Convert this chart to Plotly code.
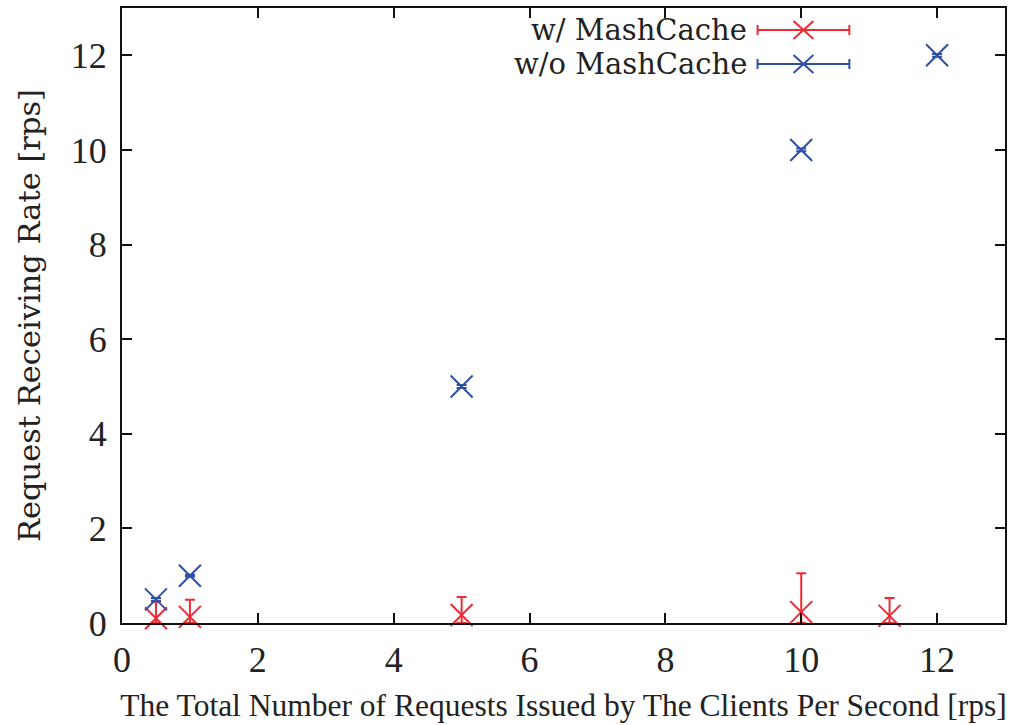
import plotly.graph_objects as go

# Data
x_with = [0.5, 1, 5, 10, 11.3]
y_with = [0.1, 0.13, 0.17, 0.23, 0.15]
err_with = [0.35, 0.36, 0.38, 0.82, 0.38]

x_without = [0.5, 1, 5, 10, 12]
y_without = [0.5, 1, 5, 10, 12]
err_without = [0.03, 0.02, 0.03, 0.03, 0.03]

x_ticks = [0, 2, 4, 6, 8, 10, 12]
y_ticks = [0, 2, 4, 6, 8, 10, 12]

RED = "#ee2a35"
BLUE = "#2e4fa6"
FONT = "DejaVu Serif"
FONT2 = "Liberation Serif"

W, H = 1009, 725
ML, MR, MT, MB = 122, 2, 8, 102
PW, PH = W - ML - MR, H - MT - MB

fig = go.Figure()


def add_series(xs, ys, errs, color, name):
    fig.add_trace(go.Scatter(
        x=xs, y=ys, mode="markers", name=name, showlegend=False,
        marker=dict(symbol="x-thin-open", size=22, color=color,
                    line=dict(width=2, color=color)),
        error_y=dict(type="data", array=errs, arrayminus=[min(e, y) for e, y in zip(errs, ys)],
                     color=color, thickness=2, width=5, visible=True),
        cliponaxis=False,
    ))


add_series(x_with, y_with, err_with, RED, "w/ MashCache")
add_series(x_without, y_without, err_without, BLUE, "w/o MashCache")

# Manual legend (text on the left, sample on the right)
def px(xp):
    return (xp - ML) / PW


def py(yp):
    return (H - MB - yp) / PH


legend_items = [("w/ MashCache", RED, 30), ("w/o MashCache", BLUE, 64)]
shapes = []
annotations = []
for label, color, yy in legend_items:
    annotations.append(dict(x=px(750), y=py(yy), xref="paper", yref="paper",
                            text=label, showarrow=False, xanchor="right", yanchor="middle",
                            font=dict(family=FONT, size=29, color="#222")))
    ln = dict(color=color, width=2)
    shapes.append(dict(type="line", xref="paper", yref="paper",
                       x0=px(759), x1=px(851), y0=py(yy), y1=py(yy), line=ln))
    shapes.append(dict(type="line", xref="paper", yref="paper",
                       x0=px(759), x1=px(759), y0=py(yy - 5), y1=py(yy + 5), line=ln))
    shapes.append(dict(type="line", xref="paper", yref="paper",
                       x0=px(851), x1=px(851), y0=py(yy - 5), y1=py(yy + 5), line=ln))
    shapes.append(dict(type="line", xref="paper", yref="paper",
                       x0=px(795), x1=px(815), y0=py(yy - 9), y1=py(yy + 9), line=ln))
    shapes.append(dict(type="line", xref="paper", yref="paper",
                       x0=px(795), x1=px(815), y0=py(yy + 9), y1=py(yy - 9), line=ln))

axis_common = dict(showgrid=False, zeroline=False, showline=True, linecolor="#111",
                   linewidth=2, mirror="ticks", ticks="inside", ticklen=10, tickwidth=1.5,
                   tickcolor="#111")

fig.update_layout(
    width=W, height=H,
    margin=dict(l=ML, r=MR, t=MT, b=MB),
    plot_bgcolor="white", paper_bgcolor="white",
    showlegend=False,
    shapes=shapes, annotations=annotations,
    xaxis=dict(range=[0, 13], tickvals=x_ticks, ticktext=[str(v) for v in x_ticks],
               tickfont=dict(family=FONT2, size=36, color="#222"), ticklabelstandoff=4,
               title=dict(text="The Total Number of Requests Issued by The Clients Per Second [rps]",
                          font=dict(family=FONT2, size=31.5, color="#222"), standoff=15),
               **axis_common),
    yaxis=dict(range=[0, 13], tickvals=y_ticks, ticktext=[str(v) for v in y_ticks],
               tickfont=dict(family=FONT2, size=36, color="#222"), ticklabelstandoff=6,
               title=dict(text="Request Receiving Rate [rps]",
                          font=dict(family=FONT, size=30.5, color="#222"), standoff=21),
               **axis_common),
)

fig.write_html("out.html")
